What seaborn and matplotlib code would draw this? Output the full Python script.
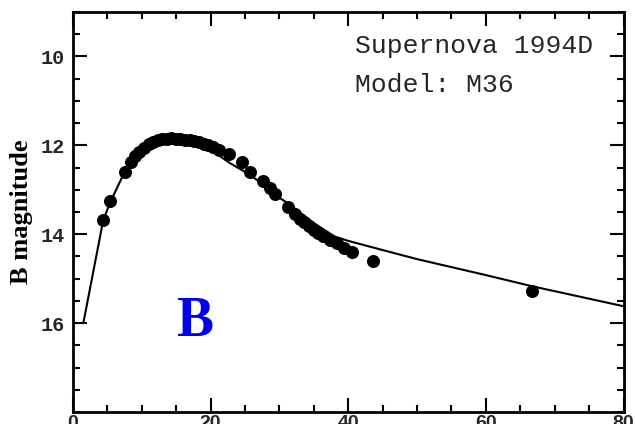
import matplotlib
matplotlib.use("Agg")
import matplotlib.pyplot as plt
from matplotlib.ticker import MultipleLocator
import seaborn as sns
import pandas as pd

# Observed B-band photometry (days, magnitude)
obs_day = [4.4, 5.4, 7.5, 8.4, 9.0, 9.6, 10.3, 11.0, 11.6, 12.3, 13.0, 13.6,
           14.3, 15.0, 15.6, 16.3, 17.0, 17.6, 18.3, 19.0, 19.6, 20.3, 21.2,
           22.6, 24.5, 25.7, 27.6, 28.6, 29.4, 31.3, 32.3, 33.0, 33.6, 34.3,
           35.0, 35.6, 36.3, 37.3, 38.3, 39.4, 40.5, 43.6, 66.7]
obs_mag = [13.68, 13.26, 12.6, 12.38, 12.25, 12.15, 12.06, 11.98, 11.93, 11.89,
           11.86, 11.85, 11.84, 11.85, 11.86, 11.87, 11.89, 11.9, 11.92, 11.96,
           12.0, 12.04, 12.1, 12.2, 12.38, 12.6, 12.8, 12.95, 13.1, 13.38, 13.55,
           13.65, 13.72, 13.82, 13.9, 13.98, 14.05, 14.12, 14.2, 14.3, 14.4,
           14.6, 15.28]

# Model M36 light curve
model_day = [1.5, 4.4, 5.5, 7.5, 9.0, 10.5, 12.0, 14.5, 16.0, 18.0, 20.0, 21.4,
             22.8, 24.7, 26.2, 28.0, 30.0, 31.5, 33.0, 35.0, 36.5, 38.0, 40.0,
             44.6, 50.0, 60.0, 66.7, 80.0]
model_mag = [16.0, 13.68, 13.25, 12.6, 12.25, 12.05, 11.95, 11.87, 11.88, 11.96,
             12.1, 12.25, 12.4, 12.57, 12.72, 12.92, 13.18, 13.33, 13.52, 13.75,
             13.9, 14.05, 14.15, 14.34, 14.56, 14.92, 15.17, 15.62]

x_ticks = [0, 20, 40, 60, 80]
y_ticks = [10, 12, 14, 16]

obs = pd.DataFrame({"day": obs_day, "mag": obs_mag})
model = pd.DataFrame({"day": model_day, "mag": model_mag})

sns.set_theme(style="ticks")
plt.rcParams["font.family"] = ["DejaVu Sans"]

fig = plt.figure(figsize=(6.35, 4.24), dpi=100)
ax = fig.add_axes([73 / 635, 12 / 424, 550.5 / 635, 400 / 424])

sns.lineplot(data=model, x="day", y="mag", sort=False, estimator=None,
             color="black", linewidth=1.5, ax=ax)
sns.scatterplot(data=obs, x="day", y="mag", color="black", s=88,
                edgecolor="black", linewidth=0, ax=ax, zorder=3)

ax.set_xlim(0, 80)
ax.set_ylim(18, 9)
ax.set_xticks(x_ticks)
ax.set_yticks(y_ticks)
ax.xaxis.set_minor_locator(MultipleLocator(5))
ax.yaxis.set_minor_locator(MultipleLocator(0.5))
ax.tick_params(which="both", direction="in", top=True, right=True,
               width=1.5, color="black")
ax.tick_params(which="major", length=10)
ax.tick_params(which="minor", length=5)
ax.tick_params(axis="y", pad=6)
ax.tick_params(axis="x", pad=2)
for lbl in ax.get_yticklabels():
    lbl.set_fontfamily("Liberation Mono")
    lbl.set_fontweight("bold")
    lbl.set_fontsize(14.5)
for lbl in ax.get_xticklabels():
    lbl.set_fontfamily("Liberation Sans")
    lbl.set_fontweight("bold")
    lbl.set_fontsize(14)
for sp in ax.spines.values():
    sp.set_linewidth(2)
    sp.set_color("black")

ax.set_xlabel("")
ax.set_ylabel("B magnitude", family="Liberation Serif", fontweight="bold",
              fontsize=19, color="black")
ax.yaxis.set_label_coords(-0.072, 0.5)

ax.text(0.512, 0.8975, "Supernova 1994D", transform=ax.transAxes,
        family="Liberation Mono", fontsize=19, ha="left", va="baseline")
ax.text(0.512, 0.80, "Model: M36", transform=ax.transAxes,
        family="Liberation Mono", fontsize=19, ha="left", va="baseline")
ax.text(0.188, 0.19, "B", transform=ax.transAxes, family="Liberation Serif",
        fontweight="bold", fontsize=40, color="#0000ee", ha="left",
        va="baseline")

fig.savefig("out.png", dpi=100)
